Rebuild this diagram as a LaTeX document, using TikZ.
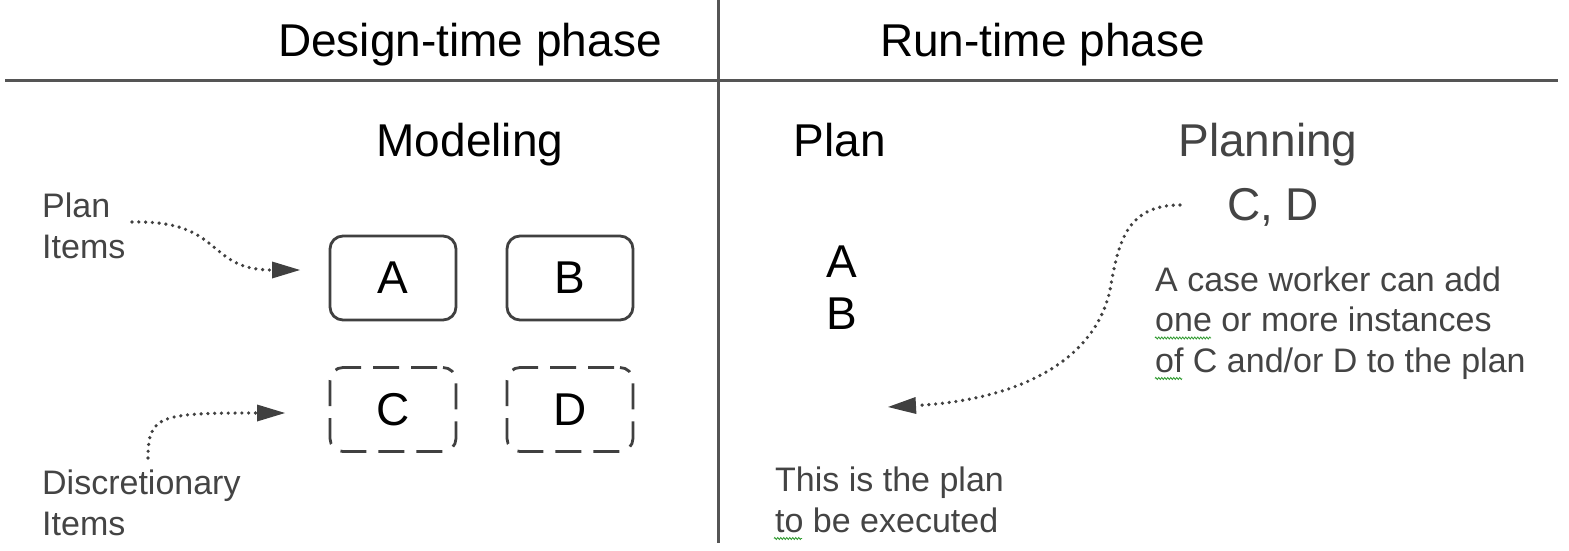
\documentclass[tikz,border=0pt]{standalone}
\usepackage{fontspec}
\setmainfont{Liberation Sans}
\usetikzlibrary{arrows.meta,decorations.pathmorphing}
\definecolor{rule}{HTML}{555555}
\definecolor{ann}{HTML}{444444}
\definecolor{boxc}{HTML}{404040}
\definecolor{spell}{HTML}{2E9A2E}
\tikzset{
  big/.style={inner sep=0pt,font=\fontsize{46}{50}\selectfont,text=black},
  note/.style={inner sep=0pt,font=\fontsize{34}{40}\selectfont,text=ann,anchor=base west},
  gray big/.style={big,text=ann},
  itembox/.style={draw=boxc,line width=2.8pt,rounded corners=13pt,minimum width=126pt,minimum height=84pt,inner sep=0pt,font=\fontsize{46}{50}\selectfont},
  disc/.style={itembox,dash pattern=on 26pt off 12pt,dash phase=-6pt},
  dotarrow/.style={draw=boxc,line width=3.6pt,line cap=round,dash pattern=on 0pt off 6.8pt,
    -{Triangle[length=28pt,width=17pt,fill=boxc,line width=0pt]}},
  squiggle/.style={draw=spell,line width=0.8pt,decorate,decoration={zigzag,segment length=3pt,amplitude=1pt}}
}
\begin{document}
\begin{tikzpicture}[x=1pt,y=-1pt]
\useasboundingbox[fill=white] (0,0) rectangle (1569,551);
% rules
\coordinate (hl) at (5,81);
\coordinate (hr) at (1558,81);
\coordinate (vt) at (718,0);
\coordinate (vb) at (718,543);
\draw[rule,line width=3pt] (hl) -- (hr);
\draw[rule,line width=3pt] (vt) -- (vb);
% headings
\node[big,anchor=base west] (design) at (278,57) {Design-time phase};
\node[big,anchor=base west] (runtime) at (880,57) {Run-time phase};
\node[big,anchor=base] (modeling) at (470,156) {Modeling};
\node[big,anchor=base] (plan) at (840,156) {Plan};
\node[gray big,anchor=base] (planning) at (1268,156) {Planning};
\node[gray big,anchor=base] (cd) at (1273,220) {C, D};
% boxes
\node[itembox] (boxA) at (393,278) {A};
\node[itembox] (boxB) at (570,278) {B};
\node[disc] (boxC) at (393,409.5) {C};
\node[disc] (boxD) at (570,409.5) {D};
% plan contents
\node[big,anchor=base] (planA) at (842,277) {A};
\node[big,anchor=base] (planB) at (842,329) {B};
% notes
\node[note] (pi1) at (42,217) {Plan};
\node[note] (pi2) at (42,258) {Items};
\node[note] (di1) at (42,494) {Discretionary};
\node[note] (di2) at (42,535) {Items};
\node[note] (cw1) at (1155,291) {A case worker can add};
\node[note] (cw2) at (1155,331) {one or more instances};
\node[note] (cw3) at (1155,372) {of C and/or D to the plan};
\node[note] (tp1) at (775,491) {This is the plan};
\node[note] (tp2) at (775,532) {to be executed};
% spelling marks
\coordinate (s1a) at (1155,338); \coordinate (s1b) at (1211,338);
\coordinate (s2a) at (1155,378.5); \coordinate (s2b) at (1182,378.5);
\coordinate (s3a) at (774,538.5); \coordinate (s3b) at (802,538.5);
\draw[squiggle] (s1a) -- (s1b);
\draw[squiggle] (s2a) -- (s2b);
\draw[squiggle] (s3a) -- (s3b);
% arrows
\coordinate (a1s) at (132,222);
\coordinate (a1e) at (300,270);
\coordinate (a2s) at (148,458);
\coordinate (a2e) at (285,413);
\coordinate (a3s) at (1180,205);
\coordinate (a3m) at (1110,290);
\coordinate (a3e) at (888,407);
\draw[dotarrow] (a1s) .. controls (225,220) and (205,270) .. (a1e);
\draw[dotarrow] (a2s) .. controls (148,415) and (160,413) .. (a2e);
\draw[dotarrow] (a3s) .. controls (1125,205) and (1118,245) .. (a3m) .. controls (1095,360) and (1020,400) .. (a3e);
\end{tikzpicture}
\end{document}
